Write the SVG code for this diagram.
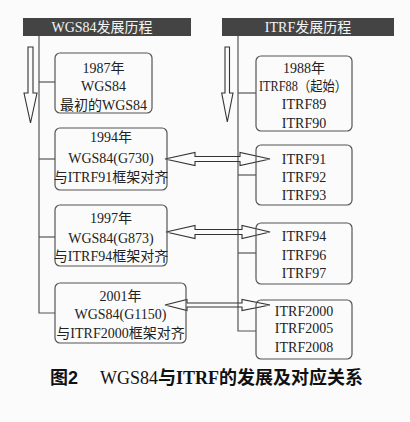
<svg xmlns="http://www.w3.org/2000/svg" width="410" height="422" viewBox="0 0 410 422">
<style>
.bg{fill:#fbfbfb}
.hdr{fill:#444}
.hdrt{fill:#f4f4f4;font-family:"Liberation Serif","Noto Sans CJK SC",serif;font-size:14px;text-anchor:middle}
.box{fill:none;stroke:#555;stroke-width:1.2}
.t{fill:#222;font-family:"Liberation Serif","Noto Sans CJK SC",serif;font-size:14px;text-anchor:middle}
.ln{fill:none;stroke:#555;stroke-width:1.2}
.arr{fill:none;stroke:#333;stroke-width:1.1;stroke-linejoin:miter}
.cap{fill:#111;font-size:18px;font-family:"Liberation Serif","Noto Sans CJK SC",serif}
.capc{font-family:"Noto Sans CJK SC",sans-serif;font-weight:bold}
</style>
<rect class="bg" x="0" y="0" width="410" height="422"/>

<g id="header-wgs84">
<rect class="hdr" x="23" y="18" width="168" height="18"/>
<text class="hdrt" x="102" y="32">WGS84发展历程</text>
</g>
<g id="header-itrf">
<rect class="hdr" x="222" y="18" width="172" height="18"/>
<text class="hdrt" x="308" y="32">ITRF发展历程</text>
</g>

<g id="connectors">
<polyline class="ln" points="39,36 39,313 55,313"/>
<line class="ln" x1="39" y1="82" x2="55" y2="82"/>
<line class="ln" x1="39" y1="159" x2="55" y2="159"/>
<line class="ln" x1="39" y1="237" x2="55" y2="237"/>
<polyline class="ln" points="238,36 238,331 256,331"/>
<line class="ln" x1="238" y1="93" x2="256" y2="93"/>
<line class="ln" x1="238" y1="175" x2="256" y2="175"/>
<line class="ln" x1="238" y1="253" x2="256" y2="253"/>
<polygon class="arr" points="28,47 33,47 33,93 37,93 30.5,123 24,93 28,93"/>
<polygon class="arr" points="225,47 229.5,47 229.5,93 233,93 227.3,122 221.7,93 225,93"/>
<polygon class="arr" points="165,159 195,152.5 195,156.5 240,156.5 240,152.5 270,159 240,165.5 240,161.5 195,161.5 195,165.5"/>
<polygon class="arr" points="166,232 195,225.5 195,229.5 242,229.5 242,225.5 270,232 242,238.5 242,234.5 195,234.5 195,238.5"/>
<polygon class="arr" points="165,305 187,299.5 187,303 242,303 242,299.5 270,305 242,310.5 242,307 187,307 187,310.5"/>
</g>

<g id="wgs-1987">
<rect class="box" x="55" y="53" width="97" height="60" rx="5"/>
<text class="t" x="103.5" y="73">1987年</text>
<text class="t" x="103.5" y="91">WGS84</text>
<text class="t" x="103.5" y="110">最初的WGS84</text>
</g>
<g id="wgs-1994">
<rect class="box" x="55" y="128" width="112" height="62" rx="5"/>
<text class="t" x="111" y="142">1994年</text>
<text class="t" x="111" y="163">WGS84(G730)</text>
<text class="t" x="111" y="182">与ITRF91框架对齐</text>
</g>
<g id="wgs-1997">
<rect class="box" x="55" y="205" width="112" height="61" rx="5"/>
<text class="t" x="111" y="223">1997年</text>
<text class="t" x="111" y="243">WGS84(G873)</text>
<text class="t" x="111" y="261">与ITRF94框架对齐</text>
</g>
<g id="wgs-2001">
<rect class="box" x="55" y="283" width="131" height="60" rx="5"/>
<text class="t" x="120.5" y="301">2001年</text>
<text class="t" x="120.5" y="319">WGS84(G1150)</text>
<text class="t" x="120.5" y="338">与ITRF2000框架对齐</text>
</g>

<g id="itrf-88-90">
<rect class="box" x="256" y="56" width="96" height="75" rx="5"/>
<text class="t" x="304" y="73">1988年</text>
<text class="t" x="303" y="91" textLength="88" lengthAdjust="spacingAndGlyphs">ITRF88（起始）</text>
<text class="t" x="304" y="109">ITRF89</text>
<text class="t" x="304" y="128">ITRF90</text>
</g>
<g id="itrf-91-93">
<rect class="box" x="256" y="145" width="96" height="60" rx="5"/>
<text class="t" x="304" y="164">ITRF91</text>
<text class="t" x="304" y="182">ITRF92</text>
<text class="t" x="304" y="200">ITRF93</text>
</g>
<g id="itrf-94-97">
<rect class="box" x="256" y="223" width="96" height="61" rx="5"/>
<text class="t" x="304" y="241">ITRF94</text>
<text class="t" x="304" y="260">ITRF96</text>
<text class="t" x="304" y="278">ITRF97</text>
</g>
<g id="itrf-2000-2008">
<rect class="box" x="256" y="300" width="96" height="59" rx="5"/>
<text class="t" x="304" y="316">ITRF2000</text>
<text class="t" x="304" y="333">ITRF2005</text>
<text class="t" x="304" y="352">ITRF2008</text>
</g>

<g id="caption">
<text class="cap" x="50" y="384"><tspan class="capc">图</tspan><tspan font-weight="bold" font-family="Liberation Sans, sans-serif">2</tspan></text>
<text class="cap" x="100" y="384">WGS84<tspan class="capc">与</tspan><tspan font-weight="bold">ITRF</tspan><tspan class="capc">的发展及对应关系</tspan></text>
</g>
</svg>
